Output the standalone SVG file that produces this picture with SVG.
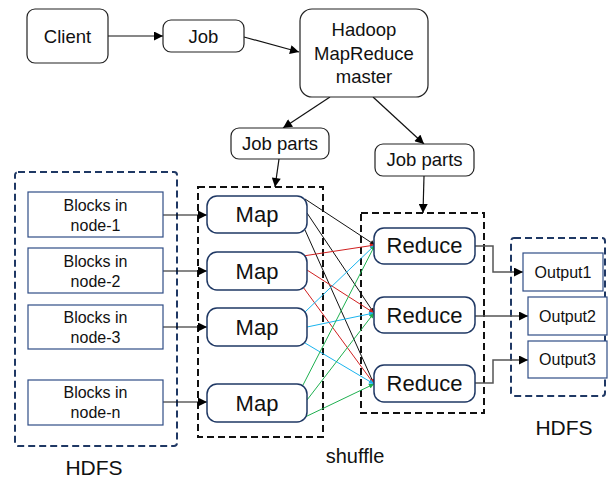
<svg xmlns="http://www.w3.org/2000/svg" width="612" height="480" viewBox="0 0 612 480">
<defs>
<style>
text{font-family:"Liberation Sans",Arial,sans-serif;fill:#111;text-anchor:middle}
.b{fill:#fff;stroke:#222;stroke-width:1.2}
.m{fill:#fff;stroke:#1f3864;stroke-width:1.5}
.s{fill:#fff;stroke:#2f4d86;stroke-width:1.2}
.dk{fill:none;stroke:#111;stroke-width:2;stroke-dasharray:7 4}
.dn{fill:none;stroke:#1f3864;stroke-width:2;stroke-dasharray:7 4}
.c{fill:none;stroke:#111;stroke-width:1.2}
.g{fill:none;stroke:#555;stroke-width:1.5}
.f18{font-size:18.5px}
.f22{font-size:22px}
.f16{font-size:16px}
.f21{font-size:21px}
</style>
<marker id="a" viewBox="0 0 10 10" refX="10" refY="5" markerWidth="10" markerHeight="9" markerUnits="userSpaceOnUse" orient="auto"><path d="M0,0L10,5L0,10z" fill="#000"/></marker>
<marker id="k" viewBox="0 0 10 10" refX="10" refY="5" markerWidth="6" markerHeight="5" markerUnits="userSpaceOnUse" orient="auto"><path d="M0,0L10,5L0,10z" fill="#111"/></marker>
<marker id="r" viewBox="0 0 10 10" refX="10" refY="5" markerWidth="6" markerHeight="5" markerUnits="userSpaceOnUse" orient="auto"><path d="M0,0L10,5L0,10z" fill="#d02020"/></marker>
<marker id="u" viewBox="0 0 10 10" refX="10" refY="5" markerWidth="6" markerHeight="5" markerUnits="userSpaceOnUse" orient="auto"><path d="M0,0L10,5L0,10z" fill="#1ab4ee"/></marker>
<marker id="v" viewBox="0 0 10 10" refX="10" refY="5" markerWidth="6" markerHeight="5" markerUnits="userSpaceOnUse" orient="auto"><path d="M0,0L10,5L0,10z" fill="#1fb050"/></marker>
</defs>

<g id="containers">
<rect id="hdfs-in" class="dn" x="15" y="172" width="162" height="274" rx="3"/>
<rect id="map-group" class="dk" x="198" y="187" width="125" height="250"/>
<rect id="reduce-group" class="dk" x="361" y="213" width="123" height="200"/>
<rect id="hdfs-out" class="dn" x="511" y="238" width="94" height="158" rx="3"/>
</g>

<g id="connectors">
<line class="c" x1="108" y1="36" x2="163" y2="36" marker-end="url(#a)"/>
<line class="c" x1="244" y1="37" x2="299" y2="52" marker-end="url(#a)"/>
<line class="c" x1="330" y1="97" x2="283" y2="128" marker-end="url(#a)"/>
<line class="c" x1="373" y1="97" x2="424" y2="144" marker-end="url(#a)"/>
<line class="c" x1="279" y1="159" x2="275" y2="187" marker-end="url(#a)"/>
<line class="c" x1="424" y1="176" x2="423" y2="213" marker-end="url(#a)"/>
<line class="c" x1="163" y1="215" x2="207" y2="215" marker-end="url(#a)"/>
<line class="c" x1="163" y1="271" x2="207" y2="271" marker-end="url(#a)"/>
<line class="c" x1="163" y1="327" x2="207" y2="327" marker-end="url(#a)"/>
<line class="c" x1="163" y1="402" x2="207" y2="402" marker-end="url(#a)"/>
<g stroke="#111" stroke-width="1">
<line x1="305" y1="199" x2="375" y2="245" marker-end="url(#k)"/>
<line x1="307" y1="213" x2="374" y2="313" marker-end="url(#k)"/>
<line x1="305" y1="230" x2="374" y2="384" marker-end="url(#k)"/>
</g>
<g stroke="#d02020" stroke-width="1">
<line x1="303" y1="256" x2="375" y2="245" marker-end="url(#r)"/>
<line x1="307" y1="270" x2="374" y2="313" marker-end="url(#r)"/>
<line x1="303" y1="287" x2="374" y2="384" marker-end="url(#r)"/>
</g>
<g stroke="#1ab4ee" stroke-width="1">
<line x1="305" y1="312" x2="375" y2="245" marker-end="url(#u)"/>
<line x1="307" y1="327" x2="374" y2="313" marker-end="url(#u)"/>
<line x1="305" y1="343" x2="374" y2="384" marker-end="url(#u)"/>
</g>
<g stroke="#1fb050" stroke-width="1">
<line x1="303" y1="385" x2="375" y2="245" marker-end="url(#v)"/>
<line x1="307" y1="400" x2="374" y2="313" marker-end="url(#v)"/>
<line x1="303" y1="418" x2="374" y2="384" marker-end="url(#v)"/>
</g>
<polyline class="g" points="475,246 493,246 493,272 523,272" marker-end="url(#a)"/>
<line class="g" x1="475" y1="316" x2="528" y2="316" marker-end="url(#a)"/>
<polyline class="g" points="475,383 493,383 493,360 528,360" marker-end="url(#a)"/>
</g>

<g id="client"><rect class="b" x="27" y="9" width="81" height="54" rx="8"/><text class="f18" x="67.5" y="43">Client</text></g>
<g id="job"><rect class="b" x="163" y="20" width="81" height="32" rx="8"/><text class="f18" x="203.5" y="43">Job</text></g>
<g id="master"><rect class="b" x="300" y="9" width="128" height="88" rx="12"/>
<text class="f18" x="364" y="36">Hadoop</text><text class="f18" x="364" y="60">MapReduce</text><text class="f18" x="364" y="83">master</text></g>
<g id="jobparts1"><rect class="b" x="231" y="128" width="98" height="31" rx="8"/><text class="f18" x="280" y="150">Job parts</text></g>
<g id="jobparts2"><rect class="b" x="375" y="144" width="99" height="32" rx="8"/><text class="f18" x="424.5" y="166">Job parts</text></g>

<g id="block1"><rect class="s" x="28" y="192" width="135" height="45"/><text class="f16" x="95.5" y="211">Blocks in</text><text class="f16" x="95.5" y="231">node-1</text></g>
<g id="block2"><rect class="s" x="28" y="248" width="135" height="45"/><text class="f16" x="95.5" y="267">Blocks in</text><text class="f16" x="95.5" y="287">node-2</text></g>
<g id="block3"><rect class="s" x="28" y="305" width="135" height="44"/><text class="f16" x="95.5" y="323">Blocks in</text><text class="f16" x="95.5" y="343">node-3</text></g>
<g id="blockn"><rect class="s" x="28" y="380" width="135" height="45"/><text class="f16" x="95.5" y="398">Blocks in</text><text class="f16" x="95.5" y="418">node-n</text></g>

<g id="map1"><rect class="m" x="207" y="196" width="100" height="37" rx="10"/><text class="f22" x="257" y="222">Map</text></g>
<g id="map2"><rect class="m" x="207" y="252" width="100" height="38" rx="10"/><text class="f22" x="257" y="279">Map</text></g>
<g id="map3"><rect class="m" x="207" y="308" width="100" height="38" rx="10"/><text class="f22" x="257" y="335">Map</text></g>
<g id="map4"><rect class="m" x="207" y="384" width="100" height="38" rx="10"/><text class="f22" x="257" y="411">Map</text></g>

<g id="reduce1"><rect class="m" x="374" y="228" width="101" height="36" rx="10"/><text class="f22" x="424.5" y="253">Reduce</text></g>
<g id="reduce2"><rect class="m" x="374" y="297" width="101" height="36" rx="10"/><text class="f22" x="424.5" y="323">Reduce</text></g>
<g id="reduce3"><rect class="m" x="374" y="365" width="101" height="37" rx="10"/><text class="f22" x="424.5" y="391">Reduce</text></g>

<g id="output1"><rect class="s" x="523" y="253" width="80" height="38"/><text class="f16" x="563" y="278">Output1</text></g>
<g id="output2"><rect class="s" x="528" y="297" width="79" height="38"/><text class="f16" x="567.5" y="322">Output2</text></g>
<g id="output3"><rect class="s" x="528" y="341" width="79" height="37"/><text class="f16" x="567.5" y="365">Output3</text></g>

<g id="labels">
<text class="f21" x="94" y="475">HDFS</text>
<text class="f21" x="564" y="435">HDFS</text>
<text style="font-size:20px" x="355" y="463">shuffle</text>
</g>
</svg>
